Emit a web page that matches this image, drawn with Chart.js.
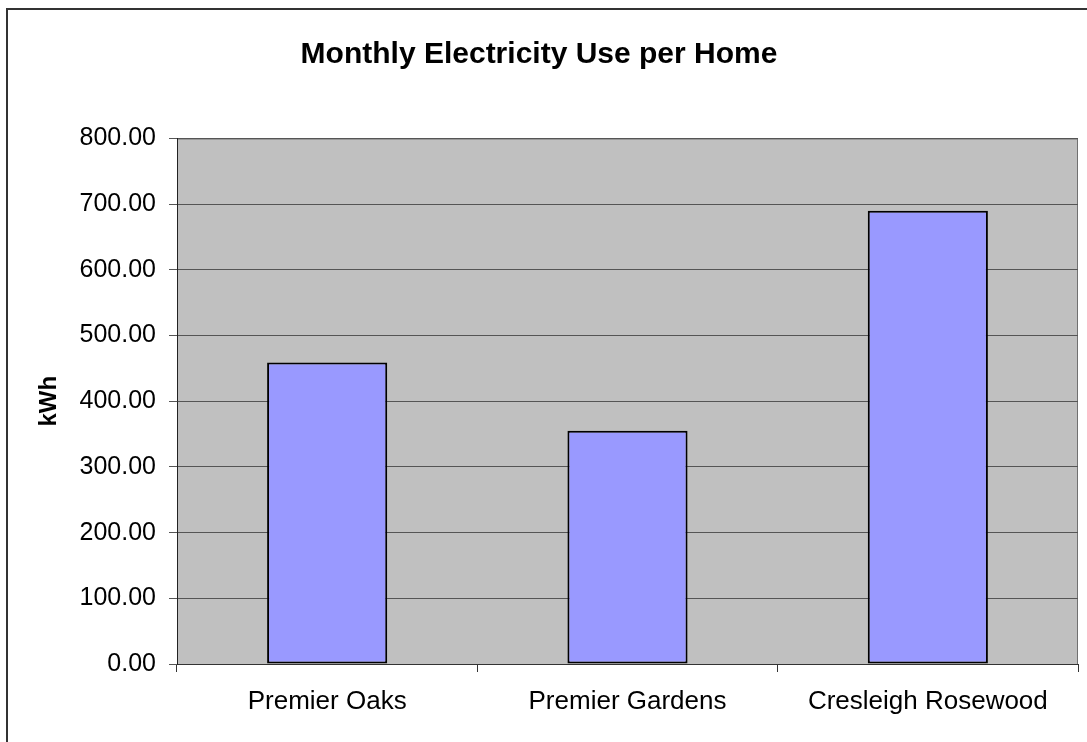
<!DOCTYPE html>
<html>
<head>
<meta charset="utf-8">
<script src="https://cdn.jsdelivr.net/npm/chart.js@4.4.1/dist/chart.umd.min.js"></script>
<style>
    html, body { margin: 0; padding: 0; background: #ffffff; }
    #myChart { display: block; }
</style>
</head>
<body>
<canvas id="myChart" width="1087" height="742" style="width:1087px;height:742px;"></canvas>
<script>
// Datos del gráfico
let categorias = ['Premier Oaks', 'Premier Gardens', 'Cresleigh Rosewood'];
let consumo = [459, 355, 690];
let ticksY = [0, 100, 200, 300, 400, 500, 600, 700, 800];

const fuente = "'Liberation Sans', Arial, sans-serif";

// Fondo gris del área de trazado y marco exterior
const fondoPlugin = {
    id: 'fondo',
    beforeDraw(chart) {
        const ctx = chart.ctx;
        const a = chart.chartArea;
        ctx.save();
        ctx.fillStyle = '#ffffff';
        ctx.fillRect(0, 0, chart.width, chart.height);
        // marco exterior
        ctx.strokeStyle = '#333333';
        ctx.lineWidth = 2;
        ctx.strokeRect(7, 9, chart.width + 20, chart.height + 20);
        // área de trazado
        ctx.fillStyle = '#c0c0c0';
        ctx.fillRect(a.left, a.top, a.right - a.left, a.bottom - a.top);
        ctx.strokeStyle = '#707070';
        ctx.lineWidth = 1;
        ctx.strokeRect(a.left + 0.5, a.top + 0.5, a.right - a.left - 1, a.bottom - a.top);
        ctx.restore();
    }
};

let myChart = document.getElementById('myChart').getContext('2d');

let graficoConsumo = new Chart(myChart, {
    type: 'bar',
    data: {
        labels: categorias,
        datasets: [{
            label: 'kWh',
            data: consumo,
            backgroundColor: '#9999ff',
            borderColor: '#000000',
            borderWidth: 2,
            borderSkipped: false,
            barPercentage: 0.4,
            categoryPercentage: 1.0
        }]
    },
    options: {
        responsive: false,
        animation: false,
        devicePixelRatio: 1,
        layout: {
            padding: { left: 0, right: 9, top: 0, bottom: 0 }
        },
        plugins: {
            legend: { display: false },
            tooltip: { enabled: false },
            title: {
                display: true,
                text: 'Monthly Electricity Use per Home',
                color: '#000000',
                font: { family: fuente, size: 30, weight: 'bold' },
                padding: { top: 37, bottom: 65.5 }
            }
        },
        scales: {
            x: {
                offset: true,
                grid: {
                    offset: true,
                    drawOnChartArea: false,
                    drawTicks: true,
                    tickLength: 8,
                    color: '#333333'
                },
                border: { display: true, color: '#333333', width: 1 },
                ticks: {
                    color: '#000000',
                    padding: 14,
                    maxRotation: 0,
                    font: { family: fuente, size: 26 }
                },
                afterFit(scale) {
                    scale.height = 78; // alto fijo del eje X
                }
            },
            y: {
                min: 0,
                max: 800,
                afterBuildTicks(scale) {
                    scale.ticks = ticksY.map(v => ({ value: v }));
                },
                grid: {
                    drawTicks: true,
                    tickLength: 8,
                    color: '#555555'
                },
                border: { display: true, color: '#222222', width: 1 },
                ticks: {
                    color: '#000000',
                    padding: 13,
                    font: { family: fuente, size: 25 },
                    callback: v => v.toFixed(2)
                },
                title: {
                    display: true,
                    text: 'kWh',
                    color: '#000000',
                    font: { family: fuente, size: 24, weight: 'bold' },
                    padding: { top: 35, bottom: 0 }
                },
                afterFit(scale) {
                    scale.width = 177; // ancho fijo del eje Y
                }
            }
        }
    },
    plugins: [fondoPlugin]
});
</script>
</body>
</html>
